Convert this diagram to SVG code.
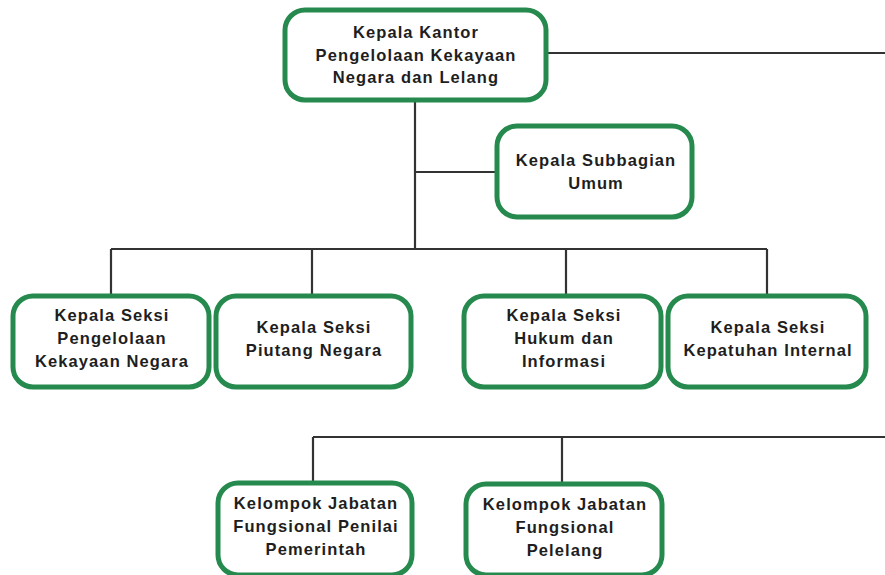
<svg xmlns="http://www.w3.org/2000/svg" width="885" height="575" viewBox="0 0 885 575">
<style>
.box{fill:#fff;stroke:#268a4e;stroke-width:5}
.t{font-family:"Liberation Sans",Arial,sans-serif;font-weight:bold;font-size:16.5px;letter-spacing:1.1px;fill:#1e1e1e;text-anchor:middle}
.c{fill:none;stroke:#333;stroke-width:2.2}
</style>
<rect width="885" height="575" fill="#fff"/>
<g id="connectors">
<path class="c" d="M548 53H885"/>
<path class="c" d="M415 100V249"/>
<path class="c" d="M415 172H497"/>
<path class="c" d="M111 249H767M111 249V295M312 249V295M566 249V295M767 249V295"/>
<path class="c" d="M313 437H885M313 437V482M562 437V483"/>
</g>
<g id="kepala-kantor">
<rect class="box" x="285" y="10" width="261" height="90" rx="20"/>
<text class="t" x="416" y="38">Kepala Kantor</text>
<text class="t" x="416" y="61">Pengelolaan Kekayaan</text>
<text class="t" x="416" y="83">Negara dan Lelang</text>
</g>
<g id="subbagian-umum">
<rect class="box" x="497" y="126" width="195" height="91" rx="20"/>
<text class="t" x="596" y="166">Kepala Subbagian</text>
<text class="t" x="596" y="189">Umum</text>
</g>
<g id="seksi-pkn">
<rect class="box" x="13" y="296" width="196" height="91" rx="20"/>
<text class="t" x="112" y="321">Kepala Seksi</text>
<text class="t" x="112" y="344">Pengelolaan</text>
<text class="t" x="112" y="367">Kekayaan Negara</text>
</g>
<g id="seksi-piutang">
<rect class="box" x="216" y="296" width="195" height="91" rx="20"/>
<text class="t" x="314" y="333">Kepala Seksi</text>
<text class="t" x="314" y="356">Piutang Negara</text>
</g>
<g id="seksi-hukum">
<rect class="box" x="464" y="296" width="197" height="91" rx="20"/>
<text class="t" x="564" y="321">Kepala Seksi</text>
<text class="t" x="564" y="344">Hukum dan</text>
<text class="t" x="564" y="367">Informasi</text>
</g>
<g id="seksi-kepatuhan">
<rect class="box" x="668" y="296" width="198" height="91" rx="20"/>
<text class="t" x="768" y="333">Kepala Seksi</text>
<text class="t" x="768" y="356">Kepatuhan Internal</text>
</g>
<g id="jf-penilai">
<rect class="box" x="218" y="483" width="194" height="92" rx="20"/>
<text class="t" x="316" y="509">Kelompok Jabatan</text>
<text class="t" x="316" y="532">Fungsional Penilai</text>
<text class="t" x="316" y="555">Pemerintah</text>
</g>
<g id="jf-pelelang">
<rect class="box" x="466" y="484" width="196" height="91" rx="20"/>
<text class="t" x="565" y="510">Kelompok Jabatan</text>
<text class="t" x="565" y="533">Fungsional</text>
<text class="t" x="565" y="556">Pelelang</text>
</g>
</svg>
